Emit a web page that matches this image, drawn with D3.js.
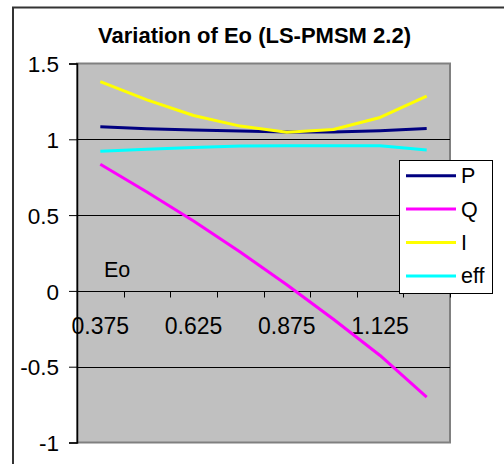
<!DOCTYPE html>
<html>
<head>
<meta charset="utf-8">
<script src="https://cdn.jsdelivr.net/npm/d3@7"></script>
<style>
  html, body { margin: 0; padding: 0; background: #fff; }
  svg { display: block; font-family: Arial, "Liberation Sans", sans-serif; }
</style>
</head>
<body>
<svg id="chart" width="504" height="464"></svg>
<script>
// Eo values along the category axis
const categories = ["0.375", "0.5", "0.625", "0.75", "0.875", "1", "1.125", "1.25"];
const shownLabels = ["0.375", "0.625", "0.875", "1.125"];

// Series values, per-unit
const seriesP   = [1.082, 1.070, 1.061, 1.054, 1.048, 1.048, 1.057, 1.072];
const seriesQ   = [0.835, 0.652, 0.461, 0.257, 0.041, -0.187, -0.426, -0.700];
const seriesI   = [1.380, 1.260, 1.157, 1.087, 1.047, 1.065, 1.144, 1.285];
const seriesEff = [0.921, 0.934, 0.946, 0.955, 0.957, 0.957, 0.957, 0.930];

const seriesNames  = ["P", "Q", "I", "eff"];
const seriesColors = ["#000080", "#ff00ff", "#ffff00", "#00ffff"];
const yTicks = [-1, -0.5, 0, 0.5, 1, 1.5];

const title = "Variation of Eo (LS-PMSM 2.2)";
const xTitle = "Eo";

const series = [seriesP, seriesQ, seriesI, seriesEff].map((vals, i) => ({
  name: seriesNames[i], color: seriesColors[i], values: vals
}));

const FONT = "Arial, 'Liberation Sans', sans-serif";
const svg = d3.select("#chart");
const plot = { left: 77, right: 450, top: 63.5, bottom: 442.5 };

const x = d3.scaleBand().domain(categories).range([plot.left, plot.right]);
const y = d3.scaleLinear().domain([-1, 1.5]).range([plot.bottom, plot.top]);

// Outer chart frame
svg.append("rect")
  .attr("x", 13).attr("y", 7.5)
  .attr("width", 520).attr("height", 480)
  .attr("fill", "#fff").attr("stroke", "#333").attr("stroke-width", 2);

// Title
svg.append("text")
  .attr("x", 254.5).attr("y", 43.3)
  .attr("text-anchor", "middle")
  .attr("font-size", 22).attr("font-weight", "bold")
  .text(title);

// Plot area background
svg.append("rect")
  .attr("x", plot.left).attr("y", plot.top)
  .attr("width", plot.right - plot.left).attr("height", plot.bottom - plot.top)
  .attr("fill", "#c0c0c0").attr("stroke", "#808080").attr("stroke-width", 2);

// Horizontal gridlines
svg.append("g")
  .selectAll("line")
  .data(yTicks.filter(v => v > -1 && v < 1.5))
  .join("line")
  .attr("x1", plot.left).attr("x2", plot.right)
  .attr("y1", d => Math.round(y(d)) + 0.5).attr("y2", d => Math.round(y(d)) + 0.5)
  .attr("stroke", "#000").attr("stroke-width", 1);

// Y axis
const yAxis = svg.append("g")
  .attr("transform", `translate(${plot.left},0)`)
  .call(d3.axisLeft(y).tickValues(yTicks).tickSize(8).tickPadding(10)
    .tickFormat(d => String(d)));
yAxis.select(".domain").attr("stroke", "#000").attr("stroke-width", 1.5);
yAxis.selectAll(".tick line").attr("stroke", "#000");
yAxis.selectAll(".tick text")
  .attr("font-size", 22.5).attr("font-family", FONT)
  .attr("fill", "#000").attr("dy", "0.36em");

// X axis along y = 0: tick marks at category boundaries
const zeroY = Math.round(y(0)) + 0.5;
const boundaries = categories.slice(1).map(c => x(c)).concat([plot.right]);
svg.append("g")
  .selectAll("line")
  .data(boundaries)
  .join("line")
  .attr("x1", d => Math.round(d) + 0.5).attr("x2", d => Math.round(d) + 0.5)
  .attr("y1", zeroY).attr("y2", zeroY + 6)
  .attr("stroke", "#000").attr("stroke-width", 1);

const xAxis = svg.append("g")
  .attr("transform", `translate(0,${zeroY})`)
  .call(d3.axisBottom(x).tickValues(shownLabels).tickSize(0));
xAxis.select(".domain").remove();
xAxis.selectAll(".tick text")
  .attr("y", 42.8).attr("dy", 0)
  .attr("font-size", 23).attr("font-family", FONT)
  .attr("fill", "#000");

// Axis title
svg.append("text")
  .attr("x", 104).attr("y", 277)
  .attr("font-size", 21.5)
  .text(xTitle);

// Series lines
const line = d3.line()
  .x((d, i) => x(categories[i]) + x.bandwidth() / 2)
  .y(d => y(d));

svg.append("g")
  .selectAll("path")
  .data(series)
  .join("path")
  .attr("d", d => line(d.values))
  .attr("fill", "none")
  .attr("stroke", d => d.color)
  .attr("stroke-width", 3)
  .attr("stroke-linejoin", "round");

// Legend
const legend = svg.append("g");
legend.append("rect")
  .attr("x", 399.5).attr("y", 160.5)
  .attr("width", 93).attr("height", 133)
  .attr("fill", "#fff").attr("stroke", "#000").attr("stroke-width", 1);

const legendItem = legend.selectAll("g.item")
  .data(series)
  .join("g")
  .attr("class", "item")
  .attr("transform", (d, i) => `translate(0,${175.7 + i * 33.4})`);
legendItem.append("line")
  .attr("x1", 406).attr("x2", 456)
  .attr("stroke", d => d.color).attr("stroke-width", 3);
legendItem.append("text")
  .attr("x", 461).attr("y", 7.5)
  .attr("font-size", 21.5)
  .text(d => d.name);
</script>
</body>
</html>
